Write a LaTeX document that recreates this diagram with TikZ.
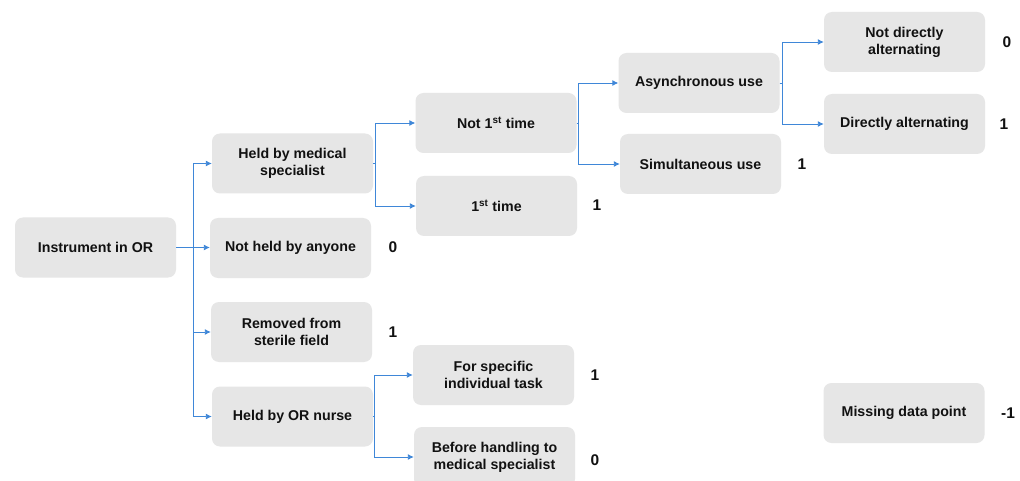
\documentclass[tikz,border=0pt]{standalone}
\usepackage{fontspec}
\setmainfont{Liberation Sans}
\usetikzlibrary{arrows.meta}
\definecolor{boxfill}{HTML}{E6E6E6}
\definecolor{conncol}{HTML}{3F87D8}
\definecolor{txt}{HTML}{111111}
\tikzset{
  box/.style={fill=boxfill, rounded corners=8pt, minimum width=161pt, minimum height=60pt,
    inner sep=0pt, align=center, font=\fontsize{14.2}{16.8}\selectfont\bfseries, text=txt},
  score/.style={font=\fontsize{15.5}{17}\selectfont\bfseries, text=txt, inner sep=0pt},
  conn/.style={draw=conncol, line width=0.9pt, -{Latex[length=6pt,width=6pt]}},
}
\begin{document}
\begin{tikzpicture}[x=1pt,y=-1pt]
\useasboundingbox[fill=white] (0,0) rectangle (1020,481);
\clip (0,0) rectangle (1020,481);
% boxes
\node[box] (inst) at (95.5,247.5) {Instrument in OR};
\node[box] (held) at (292.5,163.5) {Held by medical\\specialist};
\node[box] (notheld) at (290.5,248) {Not held by anyone};
\node[box] (removed) at (291.5,332) {Removed from\\sterile field};
\node[box] (nurse) at (292.5,416.5) {Held by OR nurse};
\node[box] (not1) at (496,123) {Not 1\textsuperscript{st} time};
\node[box] (first) at (496.5,206) {1\textsuperscript{st} time};
\node[box] (async) at (699,83) {Asynchronous use};
\node[box] (simul) at (700.5,164) {Simultaneous use};
\node[box] (notdir) at (904.5,42) {Not directly\\alternating};
\node[box] (dir) at (904.5,124) {Directly alternating};
\node[box] (specific) at (493.5,375) {For specific\\individual task};
\node[box] (before) at (494.5,457) {Before handling to\\medical specialist};
\node[box] (missing) at (904,413) {Missing data point};
% connectors
\draw[conn] (inst.east) -- ++(17,0) |- (held.west);
\draw[conn] (inst.east) -- (notheld.west |- inst.east);
\draw[conn] (inst.east) -- ++(17,0) |- (removed.west);
\draw[conn] (inst.east) -- ++(17,0) |- (nurse.west);
\draw[conn] (held.east) -- ++(2.5,0) |- (not1.west);
\draw[conn] (held.east) -- ++(2.5,0) |- (first.west);
\draw[conn] (not1.east) -- ++(1.5,0) |- (async.west);
\draw[conn] (not1.east) -- ++(1.5,0) |- (simul.west);
\draw[conn] (async.east) -- ++(3,0) |- (notdir.west);
\draw[conn] (async.east) -- ++(3,0) |- (dir.west);
\draw[conn] (nurse.east) -- ++(1.5,0) |- (specific.west);
\draw[conn] (nurse.east) -- ++(1.5,0) |- (before.west);
% scores
\node[score] (s1) at (393,247) {0};
\node[score] (s2) at (393,332) {1};
\node[score] (s3) at (597,205) {1};
\node[score] (s4) at (802,164) {1};
\node[score] (s5) at (1007,42) {0};
\node[score] (s6) at (1004,124) {1};
\node[score] (s7) at (595,375) {1};
\node[score] (s8) at (595,460) {0};
\node[score] (s9) at (1008,413) {-1};
\end{tikzpicture}
\end{document}
